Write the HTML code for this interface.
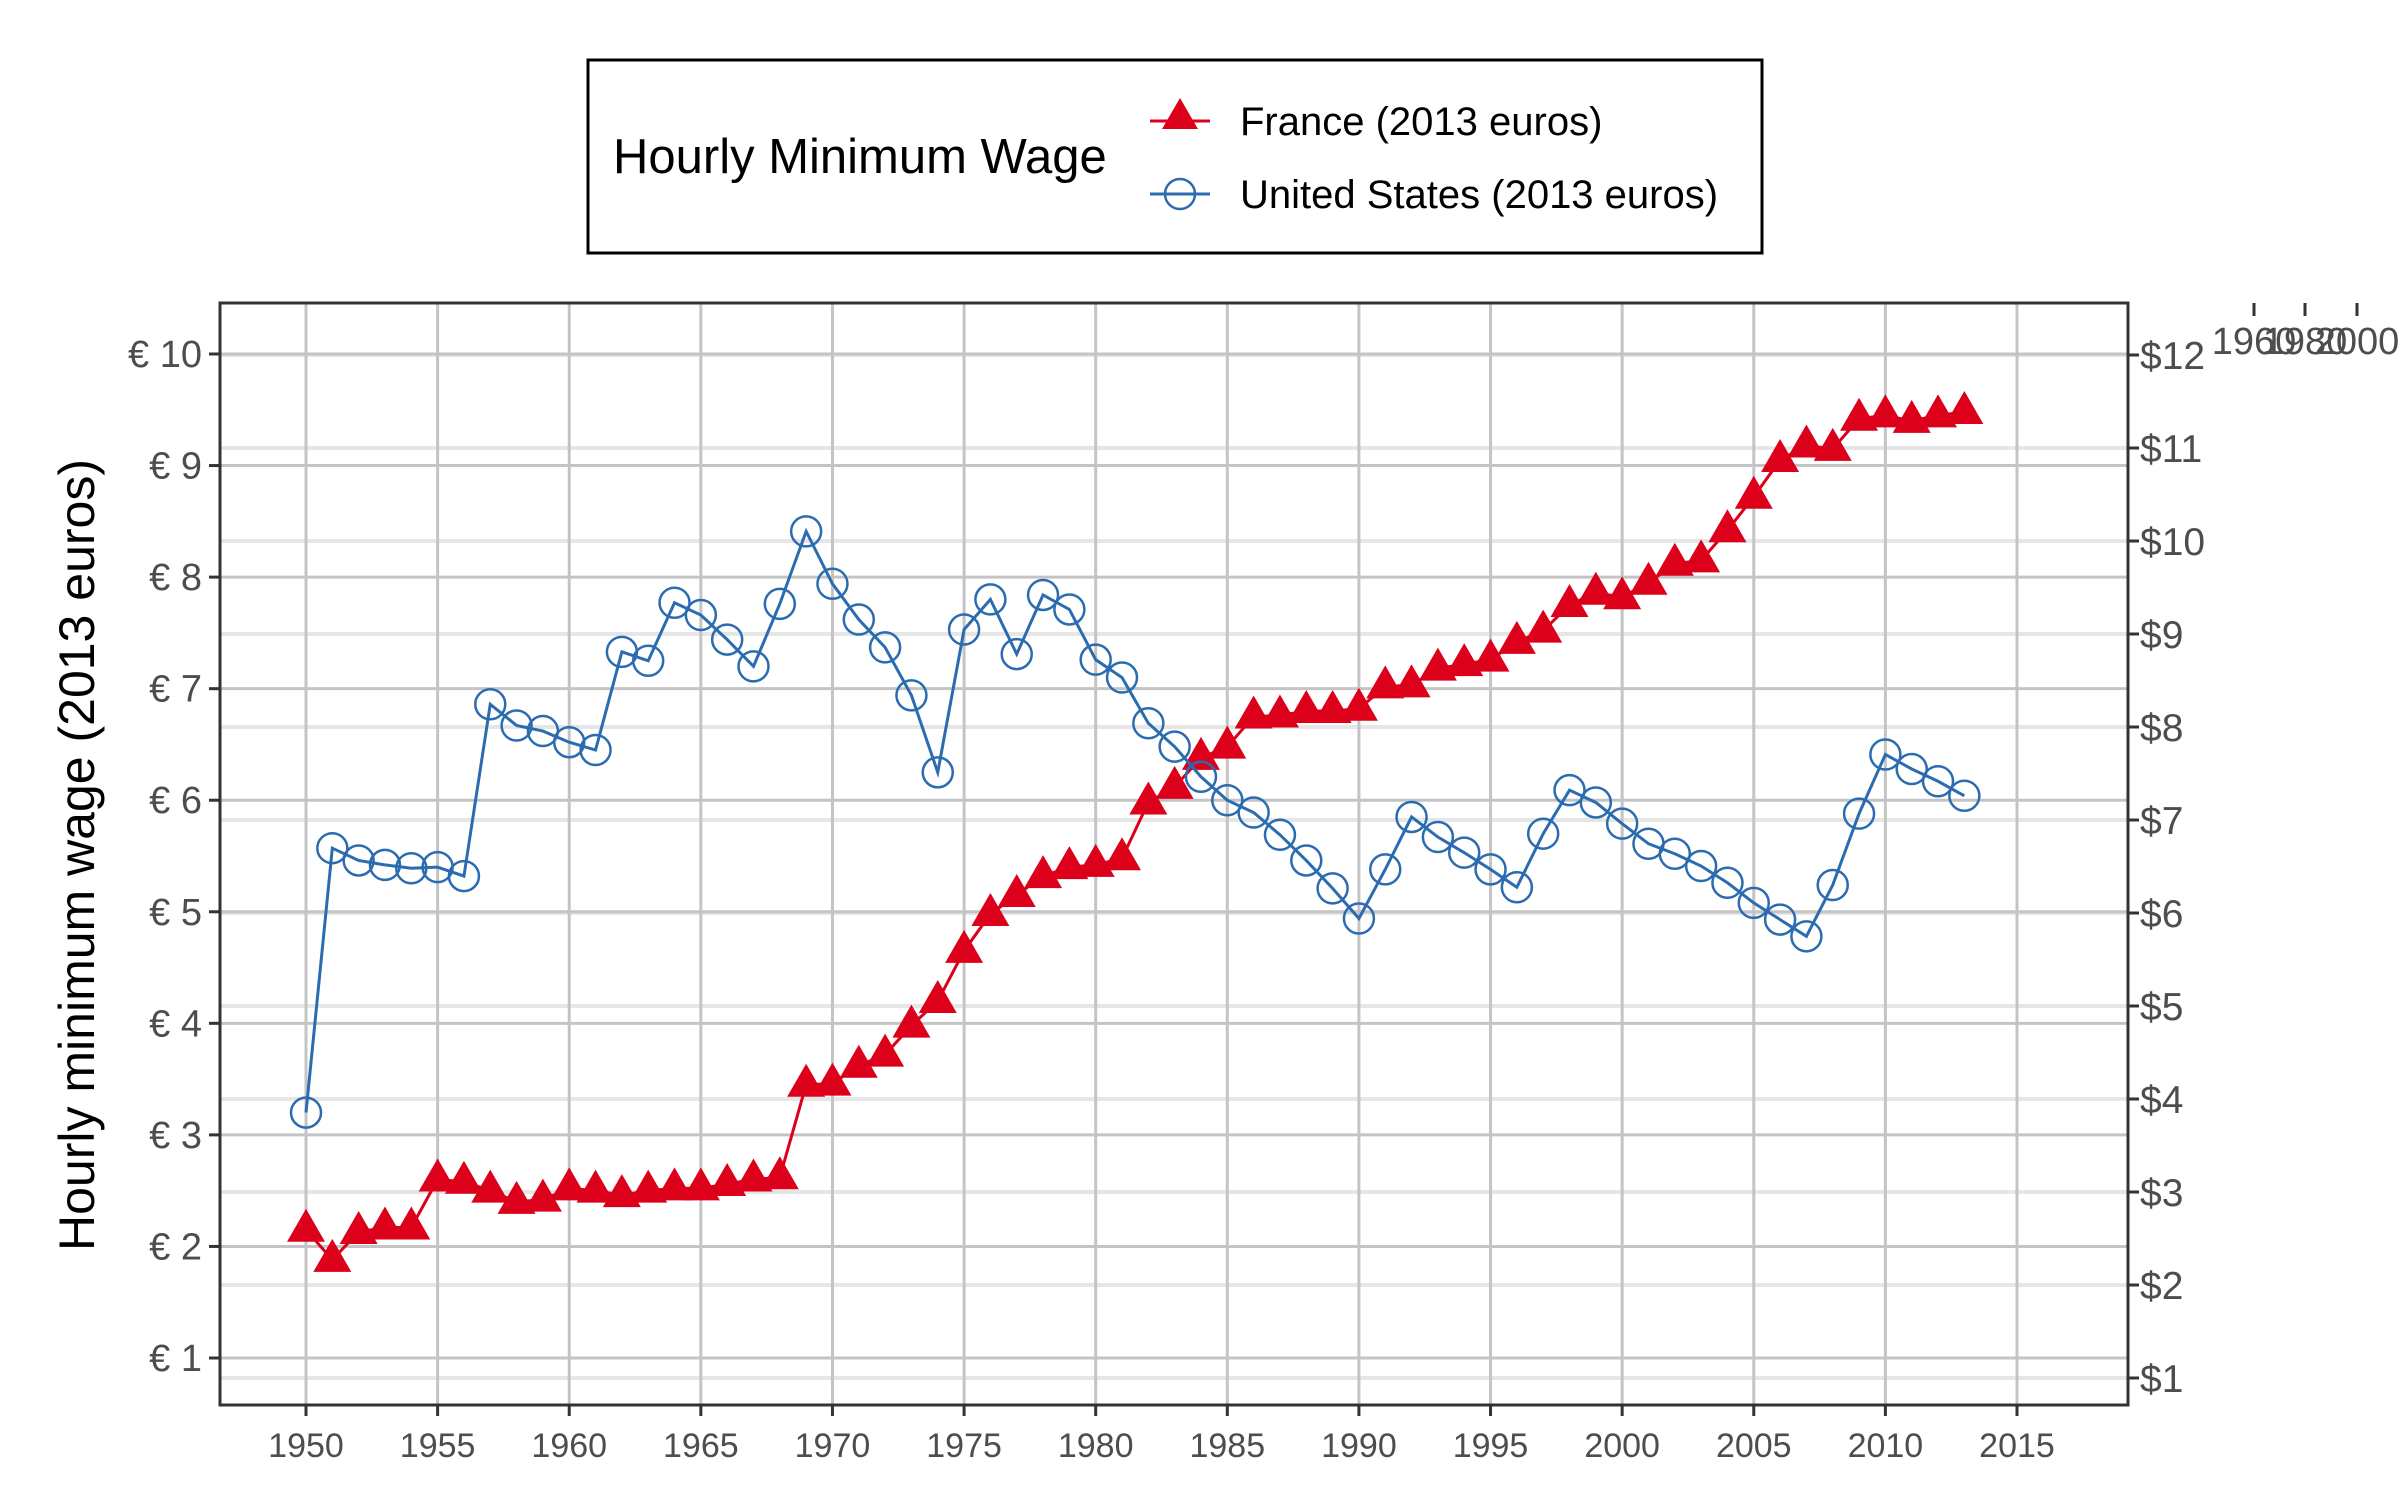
<!DOCTYPE html>
<html><head><meta charset="utf-8"><style>
html,body{margin:0;padding:0;background:#fff;}
svg{display:block;font-family:"Liberation Sans",sans-serif;}
</style></head><body>
<svg id="chart" width="2400" height="1500" viewBox="0 0 2400 1500" xmlns="http://www.w3.org/2000/svg">
<rect x="0" y="0" width="2400" height="1500" fill="#fff"/>
<g id="grid"></g>
<g id="series"></g>
<g id="axes"></g>
<text transform="translate(94,855) rotate(-90)" text-anchor="middle" font-size="50" fill="#000">Hourly minimum wage (2013 euros)</text>
<g>
<rect x="588" y="60" width="1174" height="193" fill="#fff" stroke="#000" stroke-width="3"/>
<text x="613" y="173" font-size="49" fill="#000">Hourly Minimum Wage</text>
<g>
<line x1="1150" y1="121" x2="1210" y2="121" stroke="#dc001b" stroke-width="3"/>
<polygon points="1180,98 1198,129 1162,129" fill="#dc001b"/>
<text x="1240" y="135" font-size="40" fill="#000">France (2013 euros)</text>
</g>
<g>
<line x1="1150" y1="194" x2="1210" y2="194" stroke="#2b6cb0" stroke-width="3"/>
<circle cx="1180" cy="194" r="15" fill="none" stroke="#2b6cb0" stroke-width="2.5"/>
<text x="1240" y="208" font-size="40" fill="#000">United States (2013 euros)</text>
</g>
</g>
<g>
<line x1="2254" y1="303" x2="2254" y2="316" stroke="#333" stroke-width="3"/>
<line x1="2305" y1="303" x2="2305" y2="316" stroke="#333" stroke-width="3"/>
<line x1="2357" y1="303" x2="2357" y2="316" stroke="#333" stroke-width="3"/>
<text x="2254" y="354" font-size="38" fill="#4d4d4d" text-anchor="middle">1960</text>
<text x="2305" y="354" font-size="38" fill="#4d4d4d" text-anchor="middle">1980</text>
<text x="2357" y="354" font-size="38" fill="#4d4d4d" text-anchor="middle">2000</text>
</g>
</svg>
<script>
const years = [1950,1951,1952,1953,1954,1955,1956,1957,1958,1959,1960,1961,1962,1963,1964,1965,1966,1967,1968,1969,1970,1971,1972,1973,1974,1975,1976,1977,1978,1979,1980,1981,1982,1983,1984,1985,1986,1987,1988,1989,1990,1991,1992,1993,1994,1995,1996,1997,1998,1999,2000,2001,2002,2003,2004,2005,2006,2007,2008,2009,2010,2011,2012,2013];
const franceValues = [2.15,1.88,2.13,2.17,2.17,2.6,2.58,2.5,2.4,2.42,2.52,2.5,2.46,2.5,2.52,2.52,2.56,2.6,2.62,3.45,3.46,3.62,3.72,3.98,4.2,4.65,4.98,5.15,5.32,5.4,5.42,5.48,5.98,6.12,6.38,6.48,6.75,6.76,6.8,6.8,6.82,7.02,7.03,7.18,7.22,7.26,7.42,7.52,7.75,7.86,7.82,7.95,8.12,8.15,8.42,8.72,9.05,9.18,9.15,9.42,9.45,9.4,9.45,9.48];
const usValues = [3.2,5.57,5.46,5.42,5.39,5.4,5.32,6.86,6.67,6.62,6.52,6.45,7.33,7.25,7.77,7.66,7.44,7.2,7.76,8.41,7.94,7.62,7.37,6.94,6.25,7.53,7.8,7.31,7.84,7.71,7.26,7.1,6.69,6.48,6.21,6.0,5.89,5.69,5.46,5.21,4.94,5.38,5.85,5.67,5.53,5.38,5.22,5.7,6.09,5.98,5.79,5.61,5.52,5.41,5.26,5.08,4.93,4.78,5.24,5.88,6.41,6.28,6.17,6.04];
const xTicks = [1950,1955,1960,1965,1970,1975,1980,1985,1990,1995,2000,2005,2010,2015];
const euroTicks = [1,2,3,4,5,6,7,8,9,10];
const dollarTicks = [1,2,3,4,5,6,7,8,9,10,11,12];

const NS = "http://www.w3.org/2000/svg";
const L=220,R=2128,T=303,B=1405;
const xs = y => 306 + (y-1950)*(2017-306)/65;
const ye = v => 1358 - (v-1)*(1358-354)/9;
const yd = v => 1378 - (v-1)*(1378-355)/11;
function mk(tag, attrs, parent){const e=document.createElementNS(NS,tag);for(const k in attrs)e.setAttribute(k,attrs[k]);parent.appendChild(e);return e;}
const grid=document.getElementById('grid'), series=document.getElementById('series'), axes=document.getElementById('axes');

mk('rect',{x:L,y:T,width:R-L,height:B-T,fill:'#fff'},grid);
dollarTicks.forEach(v=>{const l=mk('line',{x1:L,x2:R,y1:yd(v),y2:yd(v),stroke:'#e6e6e6','stroke-width':4},grid);

});
euroTicks.forEach(v=>{const l=mk('line',{x1:L,x2:R,y1:ye(v),y2:ye(v),stroke:'#c4c4c4','stroke-width':3},grid);

});
xTicks.forEach(v=>{const l=mk('line',{x1:xs(v),x2:xs(v),y1:T,y2:B,stroke:'#c4c4c4','stroke-width':3},grid);

});

const fp=years.map((y,i)=>xs(y)+','+ye(franceValues[i])).join(' ');
const fl=mk('polyline',{points:fp,fill:'none',stroke:'#dc001b','stroke-width':3},series);


years.forEach((y,i)=>{const cx=xs(y),cy=ye(franceValues[i]);
const p=mk('polygon',{points:`${cx},${cy-21} ${cx+19},${cy+12} ${cx-19},${cy+12}`,fill:'#dc001b'},series);

});
const up=years.map((y,i)=>xs(y)+','+ye(usValues[i])).join(' ');
const ul=mk('polyline',{points:up,fill:'none',stroke:'#2b6cb0','stroke-width':3},series);


years.forEach((y,i)=>{const c=mk('circle',{cx:xs(y),cy:ye(usValues[i]),r:15,fill:'none',stroke:'#2b6cb0','stroke-width':2.5},series);

});

mk('rect',{x:L,y:T,width:R-L,height:B-T,fill:'none',stroke:'#333','stroke-width':3},axes);
xTicks.forEach(v=>{mk('line',{x1:xs(v),x2:xs(v),y1:B,y2:B+11,stroke:'#333','stroke-width':3},axes);
const t=mk('text',{x:xs(v),y:B+52,'text-anchor':'middle','font-size':34,fill:'#4d4d4d'},axes);t.textContent=v;

});
euroTicks.forEach(v=>{mk('line',{x1:L-11,x2:L,y1:ye(v),y2:ye(v),stroke:'#333','stroke-width':3},axes);
const t=mk('text',{x:L-18,y:ye(v)+13,'text-anchor':'end','font-size':38,fill:'#4d4d4d'},axes);t.textContent='€ '+v;

});
dollarTicks.forEach(v=>{mk('line',{x1:R,x2:R+11,y1:yd(v),y2:yd(v),stroke:'#333','stroke-width':3},axes);
const t=mk('text',{x:R+12,y:yd(v)+14,'font-size':39,fill:'#4d4d4d'},axes);t.textContent='$'+v;

});
</script>
</body></html>
